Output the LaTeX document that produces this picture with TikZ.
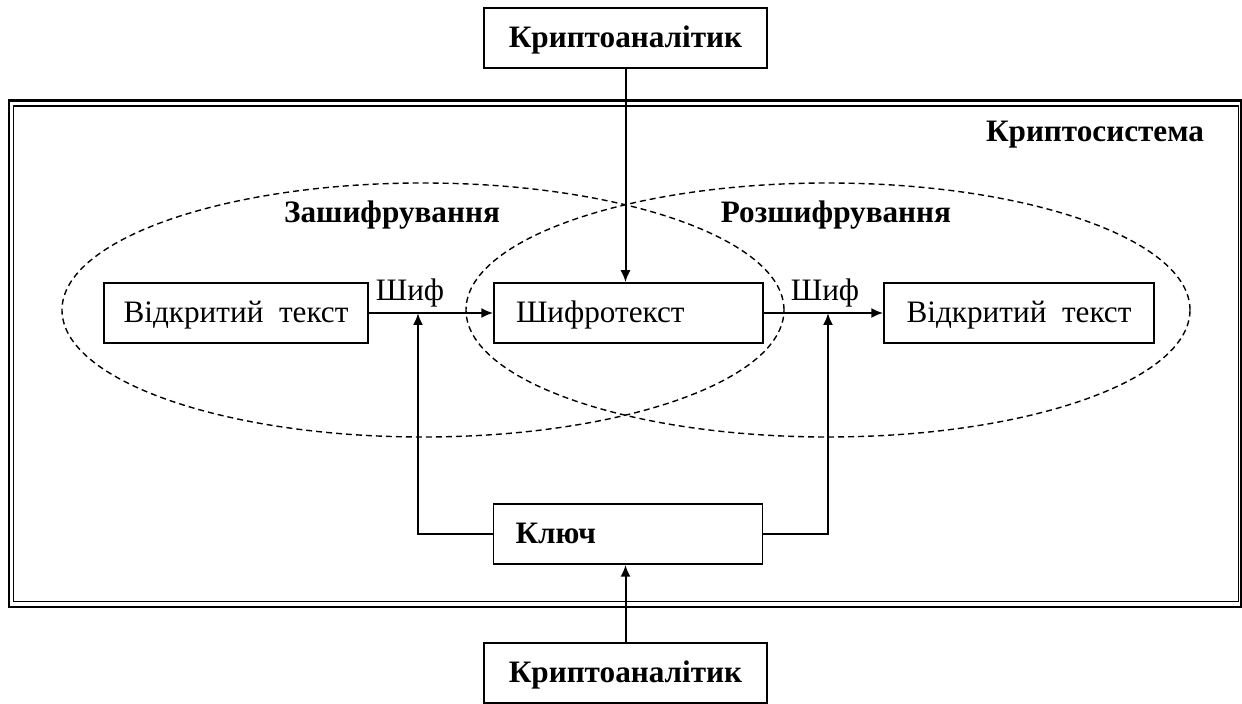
\documentclass[tikz,border=0pt]{standalone}
\usepackage{fontspec}
\setmainfont{Liberation Serif}
\usetikzlibrary{arrows.meta}

\begin{document}
\begin{tikzpicture}
		[x=0.5pt,y=-0.5pt,
		%Styles
		box/.style={draw,line width=0.75pt,minimum height=30pt,inner sep=0pt,
			text height=10pt,text depth=0pt,font=\fontsize{15.6}{18}\selectfont},
		bold box/.style={box,font=\fontsize{15.6}{18}\selectfont\bfseries},
		left box/.style={align=left,text width=112.5pt,inner xsep=11pt},
		label text/.style={font=\fontsize{15.6}{18}\selectfont},
		title text/.style={font=\fontsize{15.6}{18}\selectfont\bfseries,text height=10pt,text depth=0pt,inner sep=0pt},
		region/.style={dash pattern=on 3pt off 2pt,line width=0.7pt},
		link/.style={->,line width=1pt},
		>={Latex[length=6pt,width=5pt]}
		]
		
		\useasboundingbox (0,0) rectangle (1242,704);
		
		%Frame
		\draw[line width=1.35pt] (9,100.7) rectangle (1241,607);
		\draw[line width=0.75pt] (13.7,105.8) rectangle (1238.5,601.7);
		
		%Regions
		\draw[region] (423,310) ellipse [x radius=180.5pt,y radius=63.5pt];
		\draw[region] (828,310) ellipse [x radius=181pt,y radius=63.5pt];
		
		\node[title text] (sys) at (1095,132) {Криптосистема};
		\node[title text] (enc) at (392,213) {Зашифрування};
		\node[title text] (dec) at (836,213) {Розшифрування};
		
		\node[bold box,minimum width=141.5pt] (ca1) at (625.5,38) {Криптоаналітик};
		\node[bold box,minimum width=141.5pt] (ca2) at (625.5,673) {Криптоаналітик};
		\node[box,minimum width=132pt] (open1) at (236,313) {Відкритий\ \ текст};
		\node[box,left box] (cipher) at (628.5,313) {Шифротекст};
		\node[box,minimum width=135pt] (open2) at (1019,313) {Відкритий\ \ текст};
		\node[bold box,left box] (key) at (628,534) {Ключ};
		
		\node[label text,anchor=base] (c1) at (410,301) {Шиф};
		\node[label text,anchor=base] (c2) at (825,301) {Шиф};
		
		\coordinate (k1) at (418,313);
		\coordinate (k2) at (828,313);
		
		\path[link]
			(open1) edge (cipher)
			(cipher) edge (open2)
			(ca1.south) edge (ca1.south |- cipher.north)
			(ca2.north) edge (ca2.north |- key.south);
		\draw[link] (key.west) -| (k1);
		\draw[link] (key.east) -| (k2);
	\end{tikzpicture}
\end{document}
